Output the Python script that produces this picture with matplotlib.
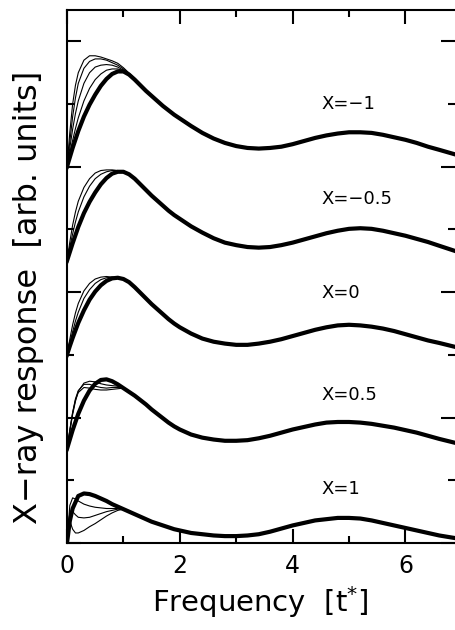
import numpy as np
import matplotlib
matplotlib.use("Agg")
import matplotlib.pyplot as plt
from matplotlib.ticker import MultipleLocator

# frequency grid of the main (converged) curves
freq = [0.0, 0.05, 0.1, 0.2, 0.3, 0.4, 0.5, 0.6, 0.7, 0.8, 0.9, 1.0, 1.1, 1.2, 1.3, 1.4, 1.5,
        1.6, 1.7, 1.8, 1.9, 2.0, 2.2, 2.4, 2.6, 2.8, 3.0, 3.2, 3.4, 3.6, 3.8, 4.0, 4.2,
        4.4, 4.6, 4.8, 5.0, 5.2, 5.4, 5.6, 5.8, 6.0, 6.2, 6.4, 6.6, 6.87]

# main curves (relative to each baseline)
resp_m1 = [0.00, 0.15, 0.30, 0.57, 0.80, 0.99, 1.15, 1.29, 1.40, 1.48, 1.52, 1.52, 1.47, 1.39, 1.30, 1.21, 1.13,
           1.05, 0.97, 0.90, 0.83, 0.77, 0.65, 0.54, 0.45, 0.38, 0.33, 0.30, 0.29, 0.30, 0.32, 0.36, 0.41,
           0.46, 0.50, 0.53, 0.55, 0.55, 0.54, 0.51, 0.47, 0.43, 0.38, 0.32, 0.27, 0.20]
resp_m05 = [0.00, 0.14, 0.28, 0.54, 0.76, 0.94, 1.09, 1.22, 1.32, 1.39, 1.42, 1.42, 1.38, 1.31, 1.22, 1.13, 1.04,
            0.96, 0.88, 0.80, 0.73, 0.67, 0.55, 0.45, 0.36, 0.29, 0.25, 0.22, 0.21, 0.22, 0.25, 0.29, 0.34,
            0.39, 0.44, 0.48, 0.51, 0.52, 0.51, 0.48, 0.44, 0.40, 0.35, 0.30, 0.24, 0.16]
resp_0 = [0.00, 0.14, 0.27, 0.51, 0.71, 0.88, 1.01, 1.11, 1.18, 1.22, 1.23, 1.21, 1.16, 1.08, 0.99, 0.90, 0.81,
          0.73, 0.65, 0.57, 0.50, 0.44, 0.34, 0.26, 0.21, 0.18, 0.16, 0.16, 0.18, 0.21, 0.25, 0.30, 0.35,
          0.40, 0.44, 0.47, 0.48, 0.47, 0.45, 0.42, 0.38, 0.33, 0.28, 0.23, 0.19, 0.13]
resp_05 = [0.00, 0.15, 0.30, 0.56, 0.77, 0.93, 1.04, 1.10, 1.11, 1.08, 1.03, 0.97, 0.91, 0.85, 0.78, 0.71, 0.63,
           0.56, 0.49, 0.42, 0.36, 0.31, 0.23, 0.18, 0.15, 0.13, 0.13, 0.14, 0.17, 0.21, 0.26, 0.31, 0.35,
           0.39, 0.42, 0.43, 0.43, 0.42, 0.40, 0.37, 0.34, 0.30, 0.26, 0.21, 0.16, 0.10]
resp_1 = [0.00, 0.35, 0.55, 0.75, 0.79, 0.78, 0.75, 0.71, 0.67, 0.62, 0.58, 0.54, 0.50, 0.46, 0.42, 0.38, 0.34,
          0.31, 0.28, 0.25, 0.22, 0.20, 0.16, 0.14, 0.12, 0.11, 0.11, 0.12, 0.14, 0.18, 0.23, 0.28, 0.32,
          0.36, 0.38, 0.40, 0.40, 0.39, 0.36, 0.32, 0.28, 0.24, 0.20, 0.16, 0.12, 0.08]

# low-frequency grid of the thin (not yet converged) curves
freq_thin = [0.0, 0.05, 0.1, 0.15, 0.2, 0.3, 0.4, 0.5, 0.6, 0.7, 0.8, 0.9, 1.0, 1.2, 1.4, 1.6]

thin_m1 = [
    [0.00, 0.55, 1.00, 1.30, 1.50, 1.70, 1.77, 1.77, 1.75, 1.72, 1.69, 1.65, 1.58, 1.41, 1.22, 1.05],
    [0.00, 0.40, 0.80, 1.10, 1.33, 1.57, 1.68, 1.72, 1.72, 1.70, 1.66, 1.62, 1.56, 1.40, 1.22, 1.05],
    [0.00, 0.30, 0.60, 0.85, 1.05, 1.33, 1.50, 1.59, 1.62, 1.63, 1.62, 1.59, 1.54, 1.40, 1.21, 1.05],
    [0.00, 0.22, 0.42, 0.61, 0.78, 1.05, 1.25, 1.39, 1.48, 1.54, 1.56, 1.56, 1.53, 1.39, 1.21, 1.05],
]
thin_m05 = [
    [0.00, 0.30, 0.57, 0.78, 0.95, 1.17, 1.31, 1.40, 1.44, 1.45, 1.45, 1.44, 1.42, 1.31, 1.13, 0.96],
    [0.00, 0.22, 0.43, 0.62, 0.78, 1.02, 1.19, 1.31, 1.38, 1.42, 1.44, 1.44, 1.43, 1.31, 1.13, 0.96],
]
thin_0 = [
    [0.00, 0.25, 0.48, 0.67, 0.82, 1.02, 1.14, 1.21, 1.24, 1.25, 1.24, 1.23, 1.21, 1.08, 0.90, 0.73],
    [0.00, 0.18, 0.37, 0.54, 0.68, 0.90, 1.04, 1.14, 1.20, 1.23, 1.24, 1.24, 1.21, 1.08, 0.90, 0.73],
]
thin_05 = [
    [0.00, 0.30, 0.58, 0.78, 0.90, 0.98, 0.97, 0.95, 0.94, 0.94, 0.95, 0.96, 0.97, 0.85, 0.71, 0.56],
    [0.00, 0.30, 0.58, 0.80, 0.93, 1.03, 1.03, 1.00, 0.98, 0.97, 0.98, 0.98, 0.97, 0.85, 0.71, 0.56],
    [0.00, 0.28, 0.55, 0.76, 0.92, 1.05, 1.08, 1.07, 1.04, 1.02, 1.01, 1.00, 0.97, 0.85, 0.71, 0.56],
]
thin_1 = [
    [0.00, 0.35, 0.22, 0.16, 0.16, 0.20, 0.26, 0.31, 0.37, 0.43, 0.48, 0.52, 0.54, 0.46, 0.38, 0.31],
    [0.00, 0.50, 0.50, 0.45, 0.41, 0.40, 0.41, 0.44, 0.47, 0.50, 0.52, 0.54, 0.54, 0.46, 0.38, 0.31],
    [0.00, 0.60, 0.72, 0.70, 0.67, 0.62, 0.59, 0.57, 0.56, 0.55, 0.55, 0.55, 0.54, 0.46, 0.38, 0.31],
]

labels = ["X=\u22121", "X=\u22120.5", "X=0", "X=0.5", "X=1"]
main_curves = [resp_m1, resp_m05, resp_0, resp_05, resp_1]
thin_curves = [thin_m1, thin_m05, thin_0, thin_05, thin_1]
offsets = [6.0, 4.5, 3.0, 1.5, 0.0]
label_y = [7.0, 5.48, 3.99, 2.36, 0.86]

fig = plt.figure(figsize=(4.55, 6.3), dpi=100)
ax = fig.add_axes([67 / 455, 87 / 630, 387.5 / 455, 533 / 630])

for main, thins, off, lab, ly in zip(main_curves, thin_curves, offsets, labels, label_y):
    for t in thins:
        ax.plot(freq_thin, np.array(t) + off, color="black", lw=0.8)
    ax.plot(freq, np.array(main) + off, color="black", lw=3.0)
    ax.text(4.52, ly, lab, fontsize=13, va="center", ha="left")

ax.set_xlim(0, 6.87)
ax.set_ylim(0, 8.5)

ax.xaxis.set_major_locator(MultipleLocator(2))
ax.xaxis.set_minor_locator(MultipleLocator(1))
ax.yaxis.set_major_locator(MultipleLocator(2))
ax.yaxis.set_minor_locator(MultipleLocator(1))
ax.tick_params(which="both", direction="in", top=True, right=True, width=1.5)
ax.tick_params(which="major", length=10, labelsize=17, pad=8)
ax.tick_params(which="minor", length=5)
ax.tick_params(axis="y", labelleft=False)
for sp in ax.spines.values():
    sp.set_linewidth(1.5)
ax.spines["right"].set_linewidth(0.6)
ax.spines["right"].set_color("#aaaaaa")

ax.set_xlabel("Frequency  [t$^{*}$]", fontsize=21, labelpad=4)
ax.set_ylabel("X\u2212ray response  [arb. units]", fontsize=23)
ax.yaxis.set_label_coords(-0.06, 0.46)

fig.savefig("out.png", dpi=100)
